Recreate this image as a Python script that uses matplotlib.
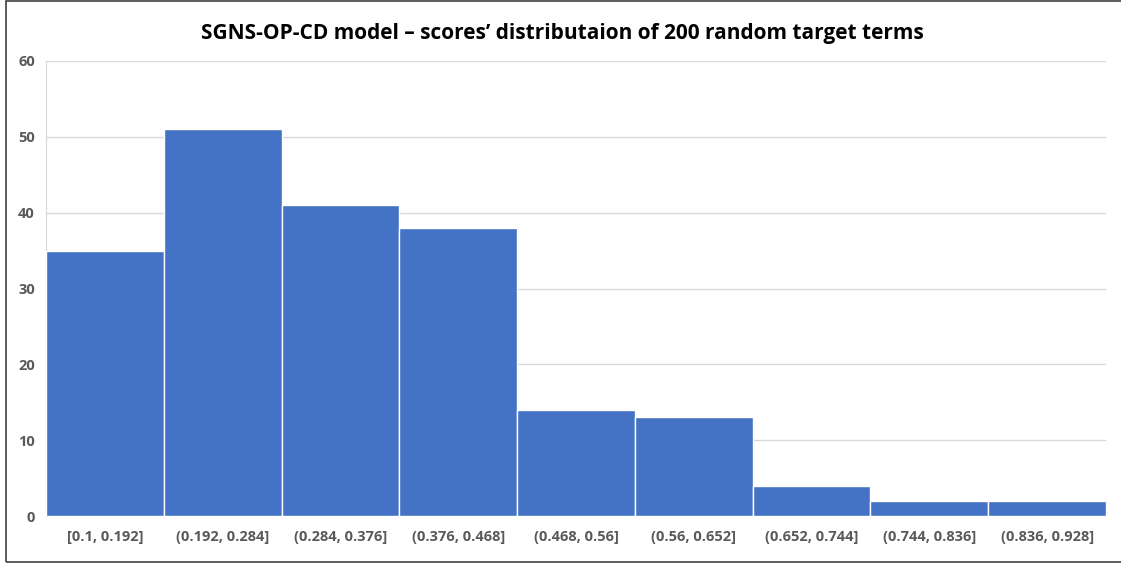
import matplotlib.pyplot as plt
from matplotlib.patches import Rectangle

bins = ["[0.1, 0.192]", "(0.192, 0.284]", "(0.284, 0.376]", "(0.376, 0.468]",
        "(0.468, 0.56]", "(0.56, 0.652]", "(0.652, 0.744]", "(0.744, 0.836]",
        "(0.836, 0.928]"]
counts = [35, 51, 41, 38, 14, 13, 4, 2, 2]
yticks = [0, 10, 20, 30, 40, 50, 60]

plt.rcParams['font.family'] = ['Open Sans', 'DejaVu Sans']

fig = plt.figure(figsize=(11.21, 5.64), dpi=100)
ax = fig.add_axes([46 / 1121, 1 - 516 / 564, 1060 / 1121, 455 / 564])

x = range(len(counts))
ax.bar(x, counts, width=1.0, color="#4472C4", edgecolor="white", linewidth=1, zorder=3)

ax.set_xlim(-0.5, len(counts) - 0.5)
ax.set_ylim(0, 60)
ax.set_yticks(yticks)
ax.set_xticks(list(x))
ax.set_xticklabels(bins)
ax.tick_params(axis="both", length=0, labelsize=10.5, labelcolor="#595959")
ax.tick_params(axis="y", pad=8)
ax.tick_params(axis="x", pad=10)
for lbl in ax.get_xticklabels() + ax.get_yticklabels():
    lbl.set_fontweight("bold")

ax.grid(axis="y", color="#d9d9d9", linewidth=1, zorder=0)
for s in ["top", "right", "bottom"]:
    ax.spines[s].set_visible(False)
ax.spines["left"].set_color("#d9d9d9")

fig.text(0.502, 1 - 33 / 564, "SGNS-OP-CD model – scores’ distributaion of 200 random target terms",
         ha="center", va="center", fontsize=15, fontweight="bold", color="black")

# outer frame
fig.patches.append(Rectangle((6 / 1121, 2 / 564), 1.0, 1 - 3 / 564, transform=fig.transFigure,
                             fill=False, edgecolor="#404040", linewidth=1.2))

fig.savefig("out.png", dpi=100)
